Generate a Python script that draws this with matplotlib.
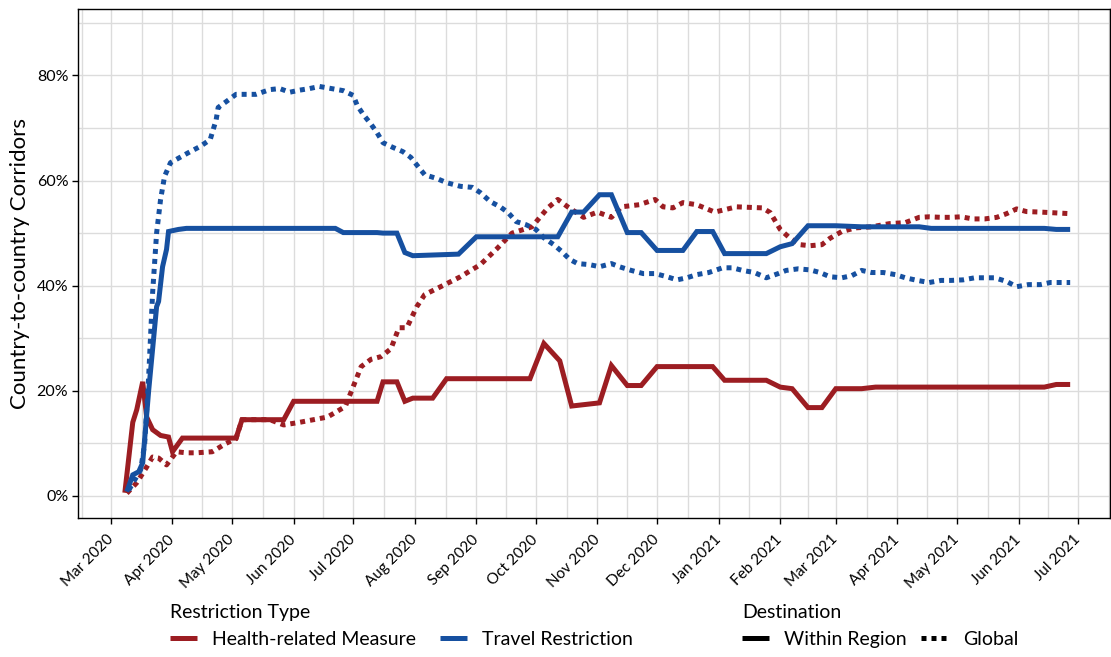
import matplotlib
matplotlib.use("Agg")
import matplotlib.pyplot as plt
import matplotlib.ticker as mticker
from matplotlib.lines import Line2D
import pandas as pd

plt.rcParams['font.family'] = ['Lato', 'DejaVu Sans']

# health-related measure, within region (solid red)
health_within_dates = ["2020-03-08", "2020-03-12", "2020-03-14", "2020-03-17", "2020-03-19", "2020-03-22",
                       "2020-03-26", "2020-03-30", "2020-04-01", "2020-04-06", "2020-05-03", "2020-05-06",
                       "2020-05-27", "2020-06-01", "2020-07-13", "2020-07-16", "2020-07-23", "2020-07-27",
                       "2020-07-31", "2020-08-10", "2020-08-17", "2020-09-28", "2020-10-05", "2020-10-13",
                       "2020-10-19", "2020-11-02", "2020-11-08", "2020-11-16", "2020-11-23", "2020-12-01",
                       "2020-12-29", "2021-01-04", "2021-01-25", "2021-02-01", "2021-02-07", "2021-02-15",
                       "2021-02-22", "2021-03-01", "2021-03-14", "2021-03-21", "2021-06-14", "2021-06-20",
                       "2021-06-27"]
health_within = [0.006, 0.14, 0.164, 0.217, 0.15, 0.126, 0.115, 0.112, 0.084, 0.11, 0.11, 0.145,
                 0.145, 0.18, 0.18, 0.217, 0.217, 0.18, 0.186, 0.186, 0.223, 0.223, 0.29, 0.257,
                 0.171, 0.177, 0.248, 0.21, 0.21, 0.246, 0.246, 0.22, 0.22, 0.207, 0.204, 0.168,
                 0.168, 0.204, 0.204, 0.207, 0.207, 0.212, 0.212]

# health-related measure, global (dotted red)
health_global_dates = ["2020-03-09", "2020-03-14", "2020-03-19", "2020-03-22", "2020-03-25", "2020-03-29",
                       "2020-04-03", "2020-04-08", "2020-04-13", "2020-04-21", "2020-04-28", "2020-05-03",
                       "2020-05-06", "2020-05-20", "2020-05-27", "2020-06-04", "2020-06-18", "2020-06-27",
                       "2020-07-01", "2020-07-05", "2020-07-10", "2020-07-15", "2020-07-20", "2020-07-24",
                       "2020-07-28", "2020-08-02", "2020-08-06", "2020-08-14", "2020-08-24", "2020-09-03",
                       "2020-09-11", "2020-09-19", "2020-09-29", "2020-10-03", "2020-10-07", "2020-10-12",
                       "2020-10-17", "2020-10-25", "2020-11-01", "2020-11-08", "2020-11-13", "2020-11-22",
                       "2020-11-30", "2020-12-04", "2020-12-09", "2020-12-14", "2020-12-21", "2020-12-30",
                       "2021-01-10", "2021-01-23", "2021-01-27", "2021-02-01", "2021-02-06", "2021-02-11",
                       "2021-02-16", "2021-02-22", "2021-02-26", "2021-03-04", "2021-03-11", "2021-03-19",
                       "2021-03-28", "2021-04-05", "2021-04-12", "2021-04-17", "2021-04-23", "2021-04-28",
                       "2021-05-03", "2021-05-09", "2021-05-15", "2021-05-21", "2021-05-26", "2021-05-31",
                       "2021-06-05", "2021-06-12", "2021-06-17", "2021-06-27"]
health_global = [0.005, 0.025, 0.055, 0.074, 0.072, 0.059, 0.084, 0.082, 0.082, 0.084, 0.10, 0.109,
                 0.145, 0.145, 0.135, 0.14, 0.15, 0.17, 0.208, 0.246, 0.26, 0.265, 0.28, 0.32,
                 0.32, 0.36, 0.383, 0.398, 0.417, 0.44, 0.469, 0.50, 0.512, 0.53, 0.548, 0.564,
                 0.55, 0.53, 0.54, 0.53, 0.55, 0.554, 0.564, 0.55, 0.548, 0.558, 0.554, 0.54,
                 0.55, 0.548, 0.539, 0.507, 0.49, 0.478, 0.476, 0.478, 0.49, 0.503, 0.51, 0.512,
                 0.518, 0.52, 0.53, 0.531, 0.53, 0.53, 0.531, 0.527, 0.527, 0.53, 0.537, 0.546,
                 0.541, 0.54, 0.539, 0.537]

# travel restriction, within region (solid blue)
travel_within_dates = ["2020-03-09", "2020-03-12", "2020-03-15", "2020-03-17", "2020-03-20", "2020-03-24",
                       "2020-03-25", "2020-03-27", "2020-03-29", "2020-03-30", "2020-04-04", "2020-04-08",
                       "2020-06-22", "2020-06-26", "2020-07-13", "2020-07-16", "2020-07-23", "2020-07-27",
                       "2020-07-31", "2020-08-23", "2020-09-01", "2020-10-12", "2020-10-19", "2020-10-25",
                       "2020-11-02", "2020-11-08", "2020-11-16", "2020-11-23", "2020-12-01", "2020-12-14",
                       "2020-12-21", "2020-12-29", "2021-01-04", "2021-01-25", "2021-02-01", "2021-02-07",
                       "2021-02-15", "2021-03-01", "2021-03-14", "2021-04-12", "2021-04-18", "2021-06-14",
                       "2021-06-20", "2021-06-27"]
travel_within = [0.008, 0.04, 0.046, 0.063, 0.20, 0.36, 0.37, 0.436, 0.469, 0.503, 0.507, 0.509,
                 0.509, 0.501, 0.501, 0.50, 0.50, 0.463, 0.457, 0.46, 0.493, 0.493, 0.54, 0.54,
                 0.573, 0.573, 0.501, 0.501, 0.467, 0.467, 0.503, 0.503, 0.461, 0.461, 0.474, 0.48,
                 0.514, 0.514, 0.512, 0.512, 0.509, 0.509, 0.507, 0.507]

# travel restriction, global (dotted blue)
travel_global_dates = ["2020-03-10", "2020-03-16", "2020-03-18", "2020-03-20", "2020-03-22", "2020-03-24",
                       "2020-03-26", "2020-03-28", "2020-03-31", "2020-04-09", "2020-04-15", "2020-04-20",
                       "2020-04-23", "2020-04-24", "2020-04-28", "2020-05-03", "2020-05-13", "2020-05-20",
                       "2020-05-25", "2020-05-30", "2020-06-04", "2020-06-09", "2020-06-14", "2020-06-20",
                       "2020-06-26", "2020-07-01", "2020-07-03", "2020-07-06", "2020-07-10", "2020-07-13",
                       "2020-07-16", "2020-07-21", "2020-07-26", "2020-07-30", "2020-08-03", "2020-08-06",
                       "2020-08-12", "2020-08-17", "2020-08-24", "2020-08-30", "2020-09-03", "2020-09-08",
                       "2020-09-13", "2020-09-17", "2020-09-21", "2020-09-26", "2020-10-01", "2020-10-05",
                       "2020-10-10", "2020-10-14", "2020-10-18", "2020-10-22", "2020-10-28", "2020-11-02",
                       "2020-11-08", "2020-11-12", "2020-11-18", "2020-11-24", "2020-11-30", "2020-12-06",
                       "2020-12-11", "2020-12-16", "2020-12-21", "2020-12-27", "2021-01-03", "2021-01-08",
                       "2021-01-13", "2021-01-19", "2021-01-25", "2021-01-31", "2021-02-04", "2021-02-10",
                       "2021-02-16", "2021-02-21", "2021-02-26", "2021-03-04", "2021-03-09", "2021-03-14",
                       "2021-03-19", "2021-03-25", "2021-03-31", "2021-04-05", "2021-04-11", "2021-04-17",
                       "2021-04-23", "2021-04-28", "2021-05-04", "2021-05-10", "2021-05-20", "2021-05-26",
                       "2021-05-31", "2021-06-06", "2021-06-12", "2021-06-17", "2021-06-27"]
travel_global = [0.011, 0.05, 0.10, 0.227, 0.387, 0.50, 0.564, 0.608, 0.634, 0.653, 0.665, 0.678,
                 0.716, 0.739, 0.75, 0.764, 0.764, 0.773, 0.775, 0.768, 0.772, 0.775, 0.779, 0.775,
                 0.771, 0.762, 0.743, 0.726, 0.707, 0.691, 0.672, 0.663, 0.655, 0.644, 0.625, 0.611,
                 0.604, 0.596, 0.589, 0.587, 0.577, 0.56, 0.55, 0.539, 0.522, 0.516, 0.507, 0.491,
                 0.478, 0.465, 0.45, 0.442, 0.44, 0.436, 0.442, 0.436, 0.429, 0.423, 0.423, 0.417,
                 0.411, 0.415, 0.421, 0.425, 0.434, 0.434, 0.429, 0.425, 0.415, 0.423, 0.429, 0.432,
                 0.43, 0.425, 0.417, 0.415, 0.419, 0.429, 0.425, 0.425, 0.421, 0.415, 0.41, 0.406,
                 0.41, 0.41, 0.411, 0.415, 0.415, 0.408, 0.398, 0.402, 0.402, 0.406, 0.406]

restriction_types = ["Health-related Measure", "Travel Restriction"]
destinations = ["Within Region", "Global"]
colors = {"Health-related Measure": "#9c1d22", "Travel Restriction": "#1650a0"}
styles = {"Within Region": "-", "Global": (0, (1, 1))}

series = [
    ("Health-related Measure", "Within Region", health_within_dates, health_within),
    ("Health-related Measure", "Global", health_global_dates, health_global),
    ("Travel Restriction", "Within Region", travel_within_dates, travel_within),
    ("Travel Restriction", "Global", travel_global_dates, travel_global),
]

fig = plt.figure(figsize=(11.11, 6.57), dpi=100)
ax = fig.add_axes([0.0702, 0.2116, 0.9288, 0.7744])

lw = 3.6
for rtype, dest, dates, vals in series:
    ax.plot(pd.to_datetime(dates), vals, color=colors[rtype], linestyle=styles[dest],
            linewidth=lw, solid_capstyle="butt", dash_capstyle="butt", solid_joinstyle="miter")

# axes limits
ax.set_xlim(pd.Timestamp("2020-02-13 10:00"), pd.Timestamp("2021-07-17"))
ax.set_ylim(-0.042, 0.926)

# ticks
months = pd.date_range("2020-03-01", "2021-07-01", freq="MS")
ax.set_xticks(months)
ax.set_xticklabels([m.strftime("%b %Y") for m in months], rotation=45, ha="right",
                   va="center", rotation_mode="anchor", fontsize=11)
all_months = pd.date_range("2020-02-01", "2021-08-01", freq="MS")
minor_x = [all_months[i] + (all_months[i + 1] - all_months[i]) / 2 for i in range(len(all_months) - 1)]
ax.set_xticks(minor_x, minor=True)

ax.yaxis.set_major_locator(mticker.FixedLocator([0, 0.2, 0.4, 0.6, 0.8]))
ax.yaxis.set_minor_locator(mticker.FixedLocator([0.1, 0.3, 0.5, 0.7, 0.9]))
ax.yaxis.set_major_formatter(mticker.PercentFormatter(1.0, decimals=0))
ax.tick_params(axis="y", labelsize=11.5, pad=3)
ax.tick_params(axis="x", pad=10)
ax.tick_params(which="major", length=4, width=1, color="black")
ax.tick_params(which="minor", length=0)

ax.grid(True, which="both", color="#dcdcdc", linewidth=1.0)
ax.set_axisbelow(True)
for s in ax.spines.values():
    s.set_color("black")
    s.set_linewidth(1.0)

ax.set_ylabel("Country-to-country Corridors", fontsize=16, labelpad=5)

# legends
type_handles = [Line2D([], [], color=colors[t], linewidth=lw, solid_capstyle="butt") for t in restriction_types]
dest_handles = [Line2D([], [], color="black", linewidth=lw, linestyle=styles[d],
                       solid_capstyle="butt", dash_capstyle="butt") for d in destinations]

leg1 = fig.legend(type_handles, restriction_types, title="Restriction Type", ncol=2,
                  loc="upper left", bbox_to_anchor=(0.153, 0.081), frameon=False,
                  fontsize=14, title_fontsize=14, alignment="left", handlelength=1.4,
                  handletextpad=0.75, columnspacing=1.25, borderaxespad=0, borderpad=0)
leg2 = fig.legend(dest_handles, destinations, title="Destination", ncol=2,
                  loc="upper left", bbox_to_anchor=(0.668, 0.081), frameon=False,
                  fontsize=14, title_fontsize=14, alignment="left", handlelength=1.4,
                  handletextpad=0.75, columnspacing=0.75, borderaxespad=0, borderpad=0)
for leg in (leg1, leg2):
    leg._legend_box.sep = 7

fig.savefig("out.png", dpi=100)
